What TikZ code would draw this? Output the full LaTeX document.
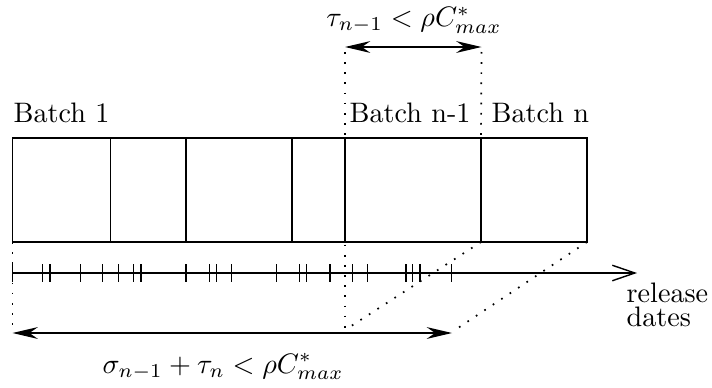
\documentclass[tikz,border=0pt]{standalone}
\usetikzlibrary{arrows.meta}
\begin{document}
\begin{tikzpicture}[x=0.355pt,y=-0.355pt, line width=0.45pt,
  dots/.style={line width=0.6pt, dash pattern=on 0.6pt off 3pt},
  bigarrow/.style={{Stealth[length=9pt,width=4.2pt,inset=3pt]}-{Stealth[length=9pt,width=4.2pt,inset=3pt]}, line width=0.5pt},
  axisarrow/.style={-{Straight Barb[length=8pt,width=5.5pt]}, line width=0.5pt},
  lbl/.style={inner sep=0pt, anchor=base west},
  mlbl/.style={inner sep=0pt, anchor=base}]
\useasboundingbox (0,0) rectangle (712,387);
% batch row
\coordinate (tl) at (12.5,138);
\coordinate (br) at (587,242);
\draw (tl) rectangle (br);
\foreach \x/\n in {110.5/d1,186/d2,292/d3,345/d4,481/d5} {
  \coordinate (\n t) at (\x,138);
  \coordinate (\n b) at (\x,242);
  \draw (\n t) -- (\n b);
}
\coordinate (bl) at (12.5,242);
\coordinate (brb) at (587,242);
% labels
\node[lbl] (b1) at (13,122) {Batch 1};
\node[lbl] (bn1) at (349,122) {Batch n-1};
\node[lbl] (bn) at (491,122) {Batch n};
% top dimension
\coordinate (ta) at (345,47);
\coordinate (tb) at (481.5,47);
\coordinate (ta0) at (345,52);
\coordinate (tb0) at (481.5,52);
\draw[dots] (ta0) -- (345,330);
\draw[dots] (tb0) -- (d5t);
\draw[bigarrow] (ta) -- (tb);
\node[mlbl] (tl1) at (414,26.5) {$\tau_{n-1} < \rho C^*_{max}$};
% axis
\coordinate (ax0) at (12.5,273);
\coordinate (ax1) at (637,273);
\draw[axisarrow] (ax0) -- (ax1);
\foreach \x in {12.7,42.7,50,80.7,102.7,118.3,133.3,141,186,209.3,216.7,231.7,276.7,299.3,306.7,330,352.5,367.7,406,412.7,420,451.7}
  \draw (\x,264) -- (\x,282);
\node[lbl] (rel) at (626,302) {release};
\node[lbl] (dat) at (626,326) {dates};
% bottom dimension
\coordinate (ba0) at (12.5,330);
\coordinate (bd1) at (345,330);
\coordinate (bd2) at (455,330);
\draw[dots] (bl) -- (ba0);
\draw[dots] (d5b) -- (bd1);
\draw[dots] (brb) -- (bd2);
\coordinate (ba) at (12.5,333);
\coordinate (bb) at (452,333);
\draw[bigarrow] (ba) -- (bb);
\node[mlbl] (bl1) at (223,373) {$\sigma_{n-1} + \tau_n < \rho C^*_{max}$};
\end{tikzpicture}
\end{document}
